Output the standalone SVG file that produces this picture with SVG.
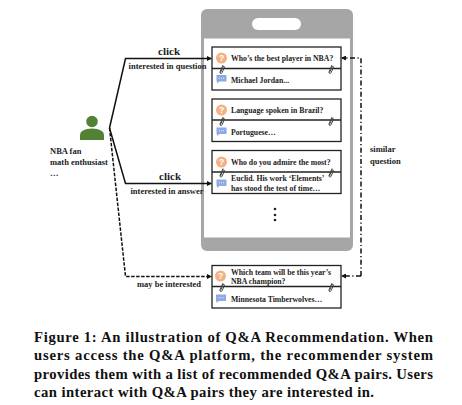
<svg xmlns="http://www.w3.org/2000/svg" width="462" height="405" viewBox="0 0 462 405">
<style>
text{font-family:"Liberation Serif","Times New Roman",serif;font-weight:bold;fill:#222}
.t{font-size:7.75px}
.l{font-size:8.5px}
.c{font-size:11px}
.cap{font-family:"Liberation Serif",serif;font-size:14.7px;fill:#111}
.card{fill:#fff;stroke:#222;stroke-width:1.3}
.div{stroke:#222;stroke-width:1.3;fill:none}
.q{fill:#f4b183}
.qm{font-family:"Liberation Sans",sans-serif;font-size:8.5px;fill:#fff;text-anchor:middle}
.a{fill:#8ea9e3}
.clip{fill:none;stroke:#444;stroke-width:1}
.ln{fill:none;stroke:#111;stroke-width:1.5}
</style>
<defs>
<marker id="ah" markerWidth="5" markerHeight="5" refX="4" refY="2.5" orient="auto" markerUnits="userSpaceOnUse"><path d="M0,0 L5,2.500 L0,5 Z" fill="#111"/></marker>
<g id="bubble"><path class="a" d="M-5,-3.500 H5 V3 H-2 L-4.500,5 V3 H-5 Z"/><path d="M-2.500,-0.300H-1.700M-0.400,-0.300H0.400M1.700,-0.300H2.500" stroke="#fff" stroke-width="1"/></g>
<g id="clip"><path class="clip" d="M-1.500,3.500 L1.200,-2.500 A1,1 0 0 1 2.600,-1.800 L0,3.800 A1,1 0 0 1 -2,3 L1,-4 "/></g>
</defs>

<g id="phone">
<rect x="201" y="9" width="152" height="242" rx="6" fill="#a6a6a6"/>
<rect x="204" y="38.500" width="146" height="199" fill="#fff"/>
<rect x="252" y="18" width="49" height="12" rx="6" fill="#fff"/>
<circle cx="275" cy="209" r="1.300" fill="#222"/><circle cx="275" cy="215" r="1.300" fill="#222"/><circle cx="275" cy="220" r="1.300" fill="#222"/>
</g>

<g id="card1">
<rect class="card" x="212" y="47" width="129" height="43"/><path class="div" d="M212,68.500H341"/>
<circle class="q" cx="221.500" cy="58" r="5.500"/><text class="qm" x="221.500" y="61">?</text>
<use href="#bubble" x="221.500" y="78.500"/><use href="#clip" x="222" y="69"/><use href="#clip" x="331" y="69"/>
<text class="t" x="231" y="61">Who’s the best player in NBA?</text><text class="t" x="231" y="82.500">Michael Jordan...</text>
</g>
<g id="card2">
<rect class="card" x="212" y="99" width="129" height="42.500"/><path class="div" d="M212,120H341"/>
<circle class="q" cx="221.500" cy="110" r="5.500"/><text class="qm" x="221.500" y="113">?</text>
<use href="#bubble" x="221.500" y="131"/><use href="#clip" x="222" y="121"/><use href="#clip" x="331" y="121"/>
<text class="t" x="231" y="113">Language spoken in Brazil?</text><text class="t" x="231" y="134.500">Portuguese…</text>
</g>
<g id="card3">
<rect class="card" x="212" y="150.500" width="129" height="43"/><path class="div" d="M212,172H341"/>
<circle class="q" cx="221.500" cy="162" r="5.500"/><text class="qm" x="221.500" y="165">?</text>
<use href="#bubble" x="221.500" y="183"/><use href="#clip" x="222" y="172.500"/><use href="#clip" x="331" y="172.500"/>
<text class="t" x="231" y="164.500">Who do you admire the most?</text><text class="t" x="231" y="181">Euclid. His work ‘Elements’</text><text class="t" x="231" y="190.500">has stood the test of time…</text>
</g>
<g id="card4">
<rect class="card" x="212" y="265.500" width="129" height="42.500"/><path class="div" d="M212,286.500H341"/>
<circle class="q" cx="220.500" cy="276" r="5.500"/><text class="qm" x="220.500" y="279">?</text>
<use href="#bubble" x="221" y="298"/><use href="#clip" x="222" y="287"/><use href="#clip" x="331" y="287"/>
<text class="t" x="231" y="274.500">Which team will be this year’s</text><text class="t" x="231" y="284">NBA champion?</text><text class="t" x="231" y="301.500">Minnesota Timberwolves…</text>
</g>

<g id="user">
<circle cx="92" cy="121.500" r="5.800" fill="#548235"/>
<path d="M80,140 V135 Q80,129 92,128.500 Q104,129 104,135 V140 Z" fill="#548235"/>
<text class="l" x="50" y="154">NBA fan</text><text class="l" x="50" y="164.500">math enthusiast</text><text class="l" x="50" y="176">…</text>
</g>

<g id="connectors">
<path class="ln" d="M109.500,128 L125.500,58.500 H211" marker-end="url(#ah)"/>
<path class="ln" d="M109.500,128 L125.500,183.500 H211" marker-end="url(#ah)"/>
<path class="ln" stroke-dasharray="3.500,1.500" d="M109.500,128 L125.500,276.500 H211" marker-end="url(#ah)"/>
<path class="ln" stroke-dasharray="5,2.500,1.200,2.500" d="M361,276 V58 H342" marker-end="url(#ah)"/>
<path class="ln" stroke-dasharray="5,2.500,1.200,2.500" d="M361,276 H342" marker-end="url(#ah)"/>
</g>

<g id="labels">
<text class="c" x="169" y="54.500" text-anchor="middle">click</text>
<text class="l" x="167.500" y="69" text-anchor="middle">interested in question</text>
<text class="c" x="170" y="179.500" text-anchor="middle">click</text>
<text class="l" x="167" y="194" text-anchor="middle">interested in answer</text>
<text class="l" x="169" y="287" text-anchor="middle">may be interested</text>
<text class="l" x="370" y="152">similar</text><text class="l" x="370" y="164">question</text>
</g>

<g id="caption">
<text class="cap" x="34" y="341.500" textLength="399" lengthAdjust="spacing">Figure 1: An illustration of Q&amp;A Recommendation. When</text>
<text class="cap" x="34" y="360" textLength="399" lengthAdjust="spacing">users access the Q&amp;A platform, the recommender system</text>
<text class="cap" x="34" y="378.500" textLength="399" lengthAdjust="spacing">provides them with a list of recommended Q&amp;A pairs. Users</text>
<text class="cap" x="34" y="397" textLength="340" lengthAdjust="spacing">can interact with Q&amp;A pairs they are interested in.</text>
</g>
</svg>
